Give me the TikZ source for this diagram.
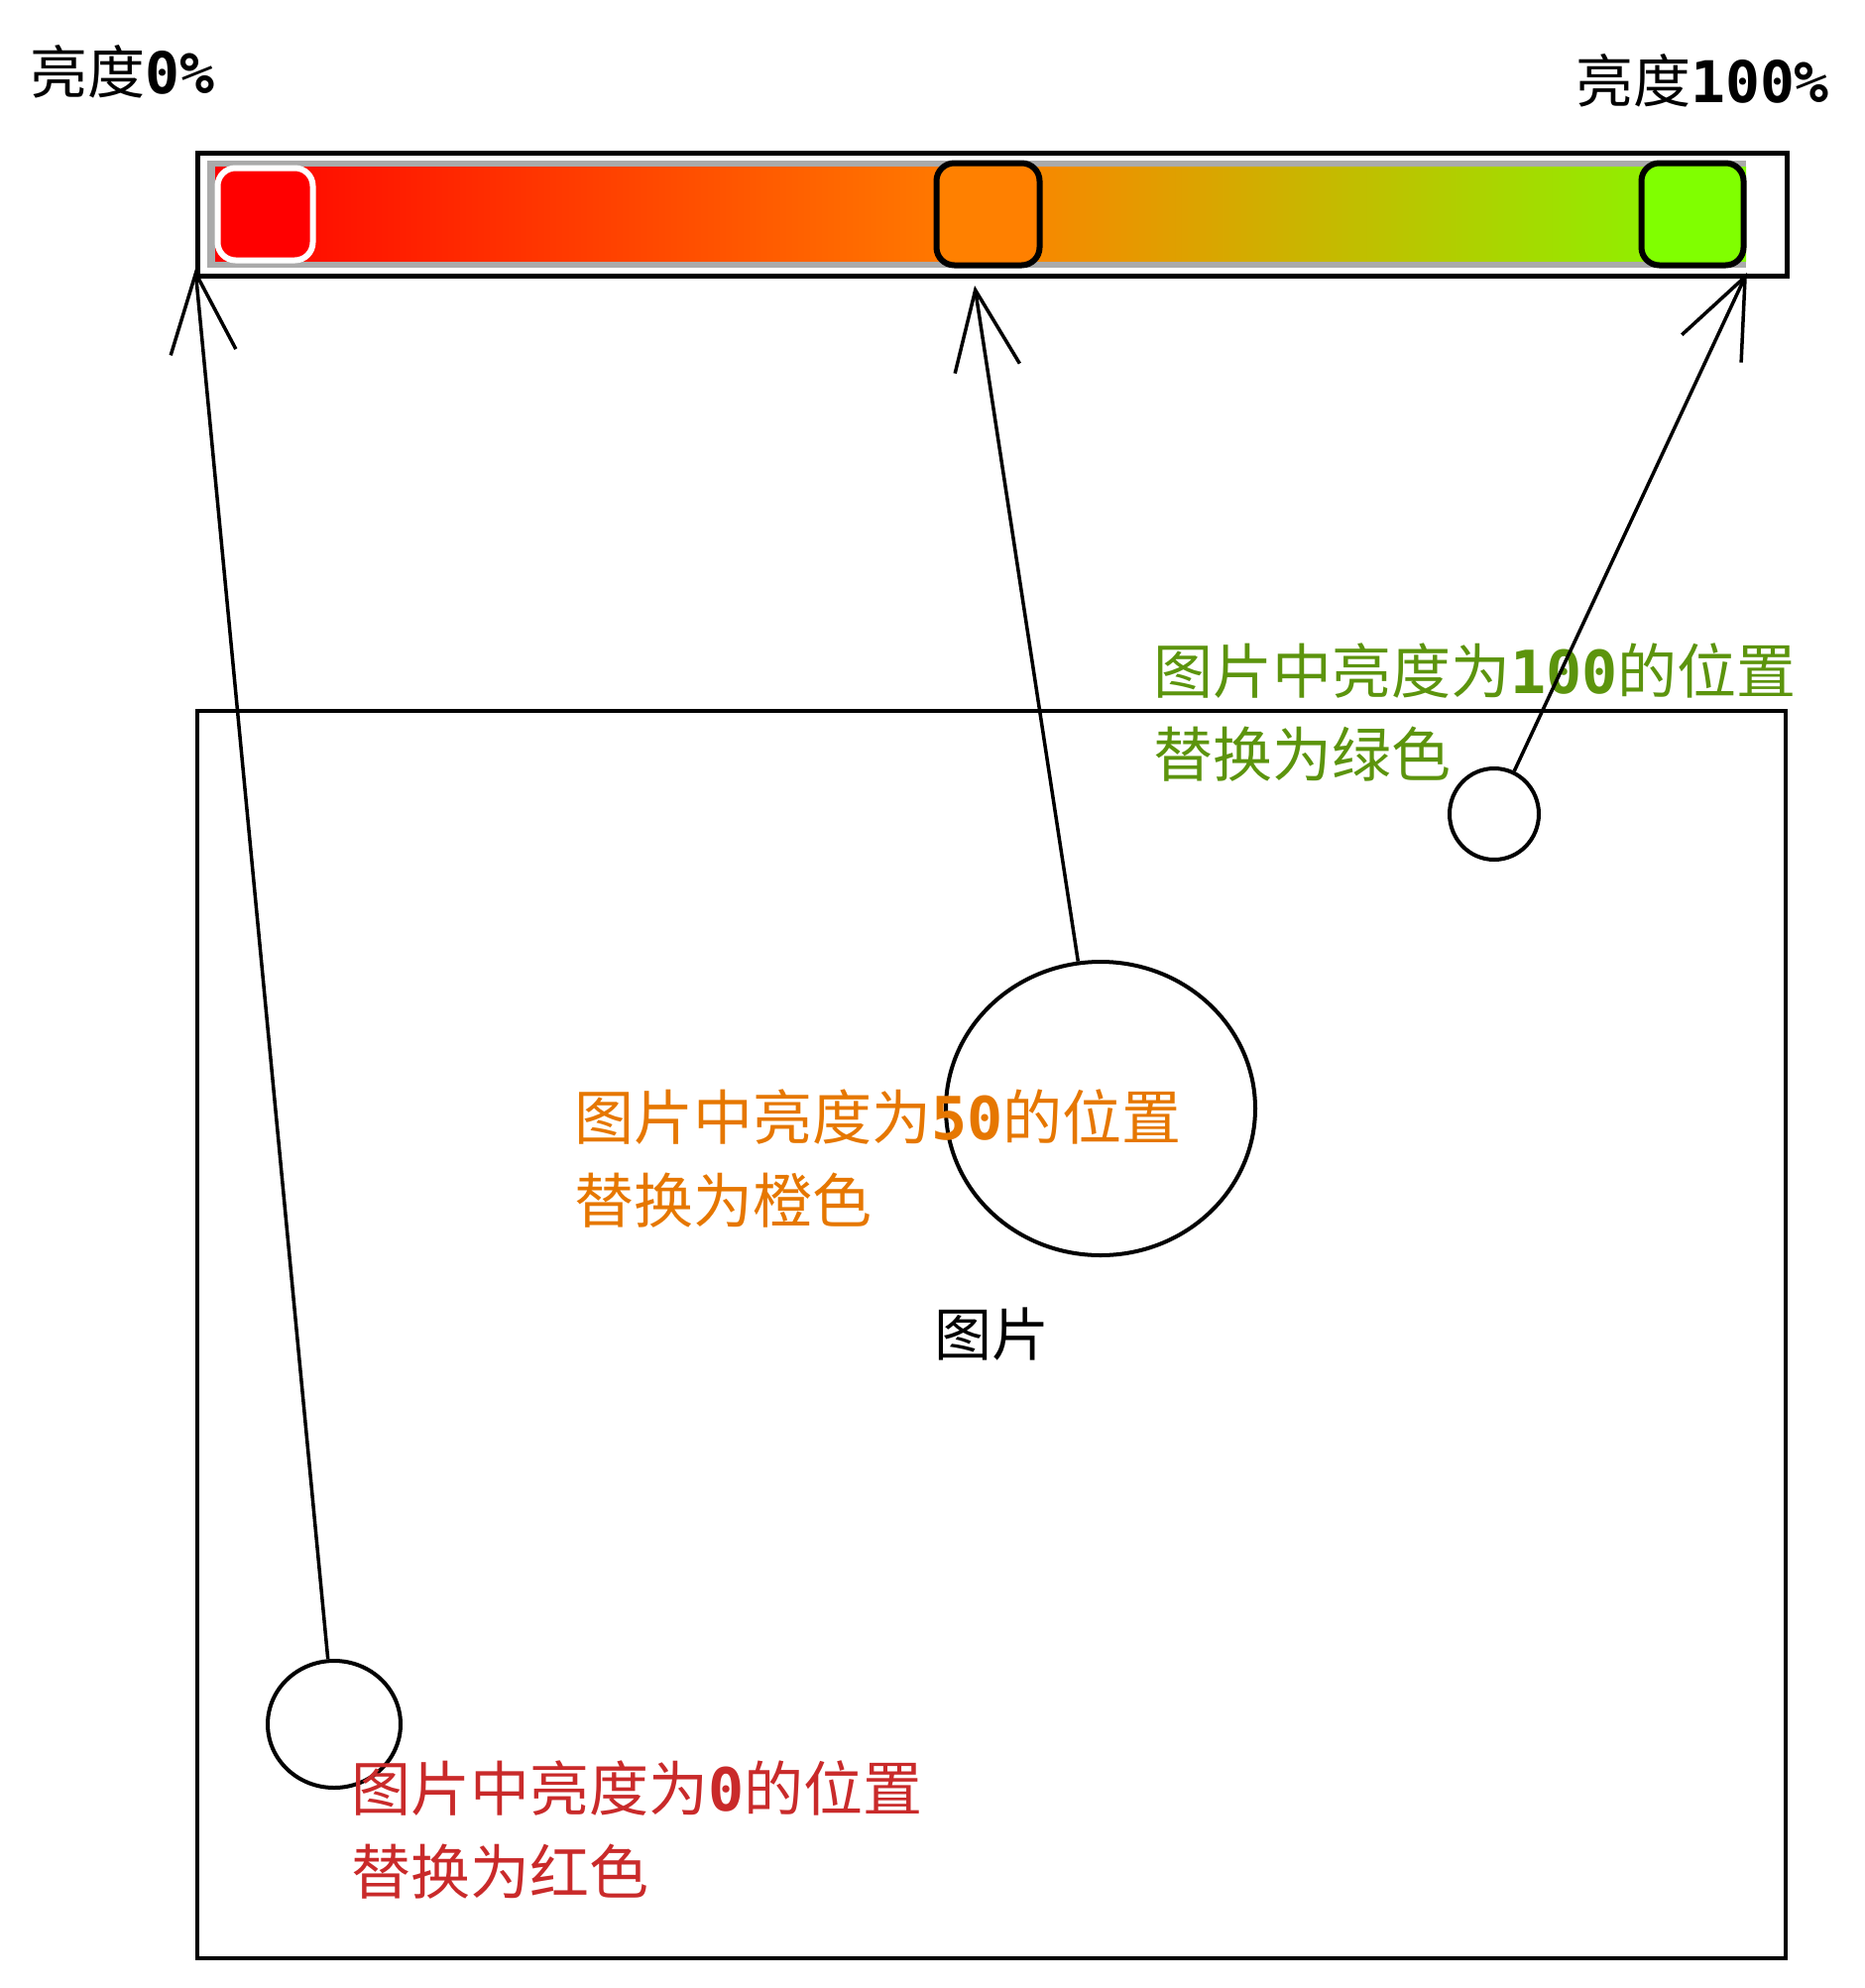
\documentclass[tikz,border=0pt]{standalone}
\usepackage{fontspec}
\setmainfont{Noto Sans CJK SC}
\newfontfamily\digitfont{DejaVu Sans Mono}
\usetikzlibrary{arrows.meta,shapes.geometric,positioning}

\definecolor{lowred}{HTML}{C92A2A}
\definecolor{midorange}{HTML}{E67700}
\definecolor{highgreen}{HTML}{5C940D}
\definecolor{track}{HTML}{AAAAAA}
\definecolor{knobred}{RGB}{255,0,0}
\definecolor{knoborange}{RGB}{255,128,0}
\definecolor{knobgreen}{RGB}{128,255,0}

\newcommand{\dg}[1]{{\digitfont\bfseries #1}}

\tikzstyle{frame} = [rectangle, draw, line width=4pt, inner sep=0pt]
\tikzstyle{knob} = [rectangle, rounded corners=18pt, draw=black, line width=6pt, inner sep=0pt, minimum width=103pt, minimum height=103pt]
\tikzstyle{spot} = [ellipse, draw, line width=4pt, inner sep=0pt]
\tikzstyle{note} = [align=left, inner sep=0pt, anchor=north west, font=\fontsize{60}{84}\selectfont]
\tikzstyle{title} = [inner sep=0pt, anchor=north west, font=\fontsize{58}{70}\selectfont]
\tikzstyle{arrow} = [line width=3.5pt, -{Straight Barb[length=80pt,width=66pt]}]

\begin{document}
\begin{tikzpicture}[x=1pt, y=-1pt]
    \useasboundingbox (0,0) rectangle (1881,2005);

    % Slider
    \node(bar) [frame, line width=4.5pt, minimum width=1603pt, minimum height=124pt] at (1001,216.5) {};
    \fill[track] (209,162) rectangle (1761,270);
    \fill[left color=knobred, right color=knoborange] (217,168) rectangle (996,263);
    \fill[left color=knoborange, right color=knobgreen] (995,168) rectangle (1761,263);
    \node(knob0) [knob, draw=white, fill=knobred, minimum width=96pt, minimum height=93pt] at (267.5,216) {};
    \node(knob50) [knob, fill=knoborange, minimum width=104pt] at (996.5,216) {};
    \node(knob100) [knob, fill=knobgreen] at (1707,216) {};

    % Labels
    \node(low) [title] at (30,45) {亮度\dg{0\%}};
    \node(high) [title] at (1589,54) {亮度\dg{100\%}};

    % Picture
    \node(image) [frame, minimum width=1602pt, minimum height=1258pt, font=\fontsize{58}{70}\selectfont] at (1000,1346) {图片};
    \node(dot0) [spot, minimum width=134pt, minimum height=128pt] at (337,1739) {};
    \node(dot50) [spot, minimum width=312pt, minimum height=296pt] at (1110,1118) {};
    \node(dot100) [spot, minimum width=90pt, minimum height=92pt] at (1507,821) {};

    \node(note0) [note, text=lowred] at (354,1775) {图片中亮度为\dg{0}的位置\\替换为红色};
    \node(note50) [note, text=midorange] at (579,1098) {图片中亮度为\dg{50}的位置\\替换为橙色};
    \node(note100) [note, text=highgreen] at (1163,648) {图片中亮度为\dg{100}的位置\\替换为绿色};

    % Arrows
    \coordinate(tip0) at (197,271);
    \coordinate(tip50) at (983,288);
    \coordinate(tip100) at (1762,275);
    \draw [arrow] (dot0) -- (tip0);
    \draw [arrow] (dot50) -- (tip50);
    \draw [arrow] (dot100) -- (tip100);

\end{tikzpicture}
\end{document}
